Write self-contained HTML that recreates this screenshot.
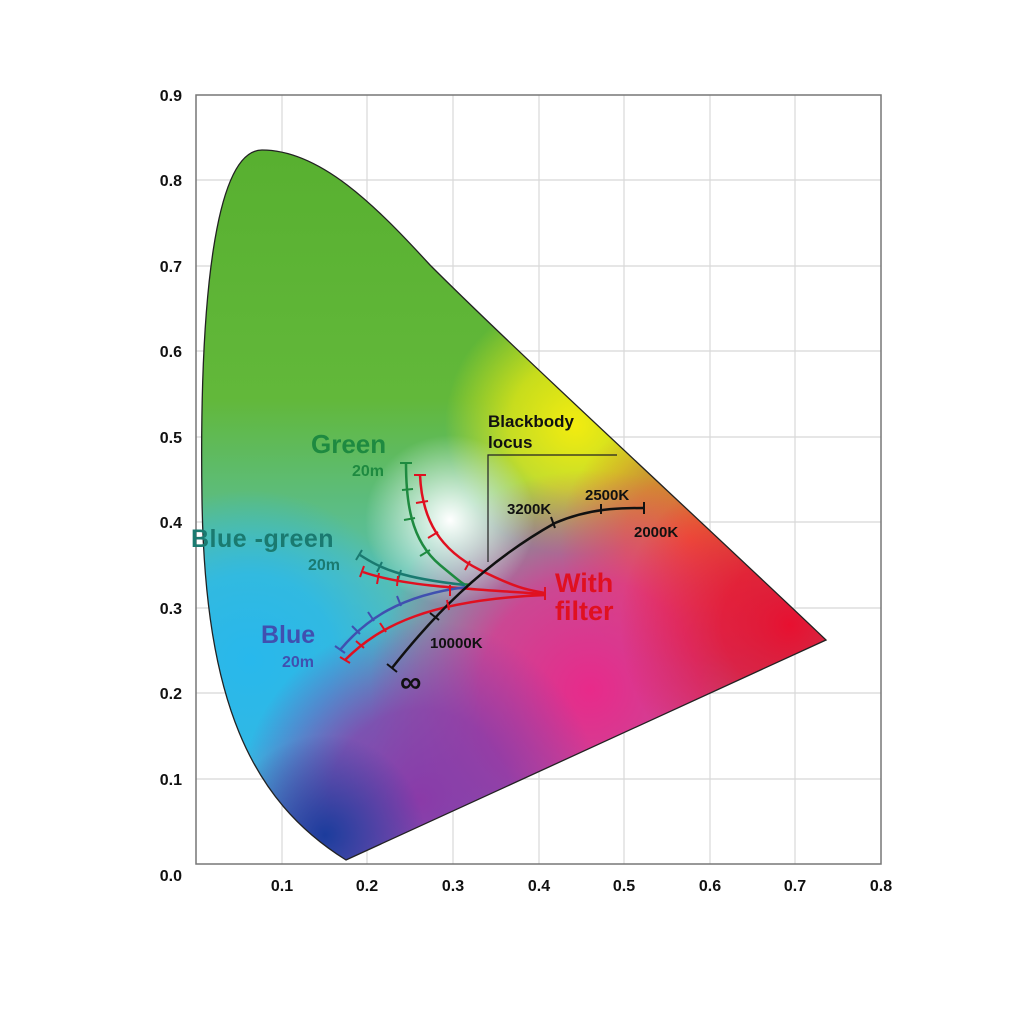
<!DOCTYPE html>
<html><head><style>
body{margin:0;background:#fff;width:1024px;height:1024px;overflow:hidden}
svg text{font-family:"Liberation Sans",Arial,sans-serif;font-weight:bold}
</style></head><body>
<svg width="1024" height="1024" viewBox="0 0 1024 1024">
<defs>
<clipPath id="hs"><path d="M346,860 C250,800 205,700 202,500 C199,300 215,150 262,150 C320,150 375,205 430,265 C520,355 700,520 826,640 Z"/></clipPath>
<radialGradient id="gW" cx="450" cy="520" r="85" gradientUnits="userSpaceOnUse"><stop offset="0" stop-color="#fff" stop-opacity="1"/><stop offset="1" stop-color="#fff" stop-opacity="0"/></radialGradient>
<radialGradient id="gY" cx="575" cy="425" r="130" gradientUnits="userSpaceOnUse"><stop offset="0" stop-color="#f2ec10"/><stop offset="0.5" stop-color="#f2ec10" stop-opacity="0.7"/><stop offset="1" stop-color="#f2ec10" stop-opacity="0"/></radialGradient>
<radialGradient id="gO" cx="690" cy="540" r="130" gradientUnits="userSpaceOnUse"><stop offset="0" stop-color="#f07020"/><stop offset="0.5" stop-color="#f07020" stop-opacity="0.7"/><stop offset="1" stop-color="#f07020" stop-opacity="0"/></radialGradient>
<radialGradient id="gR" cx="790" cy="625" r="170" gradientUnits="userSpaceOnUse"><stop offset="0" stop-color="#e81030"/><stop offset="0.4" stop-color="#e81030" stop-opacity="0.8"/><stop offset="1" stop-color="#e81030" stop-opacity="0"/></radialGradient>
<radialGradient id="gM" cx="590" cy="690" r="220" gradientUnits="userSpaceOnUse"><stop offset="0" stop-color="#e82a8a"/><stop offset="0.5" stop-color="#e82a8a" stop-opacity="0.8"/><stop offset="1" stop-color="#e82a8a" stop-opacity="0"/></radialGradient>
<radialGradient id="gP" cx="420" cy="800" r="180" gradientUnits="userSpaceOnUse"><stop offset="0" stop-color="#8a3aa8"/><stop offset="0.5" stop-color="#8a3aa8" stop-opacity="0.8"/><stop offset="1" stop-color="#8a3aa8" stop-opacity="0"/></radialGradient>
<radialGradient id="gB" cx="325" cy="835" r="100" gradientUnits="userSpaceOnUse"><stop offset="0" stop-color="#1c3c9c"/><stop offset="1" stop-color="#1c3c9c" stop-opacity="0"/></radialGradient>
<radialGradient id="gC" cx="250" cy="660" r="170" gradientUnits="userSpaceOnUse"><stop offset="0" stop-color="#28b8ec"/><stop offset="0.5" stop-color="#28b8ec" stop-opacity="0.8"/><stop offset="1" stop-color="#28b8ec" stop-opacity="0"/></radialGradient>
<linearGradient id="base" x1="0" y1="150" x2="0" y2="860" gradientUnits="userSpaceOnUse"><stop offset="0" stop-color="#58b030"/><stop offset="0.35" stop-color="#62b83a"/><stop offset="0.6" stop-color="#58c0b0"/><stop offset="1" stop-color="#48b0e0"/></linearGradient>
</defs>
<g stroke="#d8d8d8" stroke-width="1.2">
<line x1="282" y1="95" x2="282" y2="864"/><line x1="367" y1="95" x2="367" y2="864"/><line x1="453" y1="95" x2="453" y2="864"/><line x1="539" y1="95" x2="539" y2="864"/><line x1="624" y1="95" x2="624" y2="864"/><line x1="710" y1="95" x2="710" y2="864"/><line x1="795" y1="95" x2="795" y2="864"/>
<line x1="196" y1="779" x2="881" y2="779"/><line x1="196" y1="693" x2="881" y2="693"/><line x1="196" y1="608" x2="881" y2="608"/><line x1="196" y1="522" x2="881" y2="522"/><line x1="196" y1="437" x2="881" y2="437"/><line x1="196" y1="351" x2="881" y2="351"/><line x1="196" y1="266" x2="881" y2="266"/><line x1="196" y1="180" x2="881" y2="180"/>
</g>
<rect x="196" y="95" width="685" height="769" fill="none" stroke="#777" stroke-width="1.5"/>
<g clip-path="url(#hs)">
<rect x="190" y="140" width="650" height="730" fill="url(#base)"/>
<rect x="190" y="140" width="650" height="730" fill="url(#gC)"/>
<rect x="190" y="140" width="650" height="730" fill="url(#gY)"/>
<rect x="190" y="140" width="650" height="730" fill="url(#gO)"/>
<rect x="190" y="140" width="650" height="730" fill="url(#gM)"/>
<rect x="190" y="140" width="650" height="730" fill="url(#gR)"/>
<rect x="190" y="140" width="650" height="730" fill="url(#gP)"/>
<rect x="190" y="140" width="650" height="730" fill="url(#gB)"/>
<rect x="190" y="140" width="650" height="730" fill="url(#gW)"/>
</g>
<path d="M346,860 C250,800 205,700 202,500 C199,300 215,150 262,150 C320,150 375,205 430,265 C520,355 700,520 826,640 Z" fill="none" stroke="#222" stroke-width="1.3"/>
<polyline points="488,562 488,455 617,455" fill="none" stroke="#222" stroke-width="1.2"/>
<g fill="none" stroke-width="2.5">
<path d="M406,463 C406,500 410,540 440,565 S462,583 470,585" stroke="#1e8a40"/>
<path d="M420,475 C422,520 440,550 480,570 S530,590 545,593" stroke="#e01020"/>
<path d="M360,555 C380,568 400,578 465,585" stroke="#1a7a70"/>
<path d="M363,572 C400,585 450,588 545,594" stroke="#e01020"/>
<path d="M340,650 C365,620 400,595 467,587" stroke="#4050b0"/>
<path d="M345,660 C380,625 430,600 545,595" stroke="#e01020"/>
<path d="M392,668 C430,620 480,565 555,523 C590,508 620,508 644,508" stroke="#111"/>
</g>
<g stroke-width="2">
<g stroke="#1e8a40"><line x1="400" y1="463" x2="412" y2="463"/><line x1="402" y1="490" x2="413" y2="489"/><line x1="404" y1="520" x2="415" y2="518"/><line x1="420" y1="556" x2="430" y2="550"/></g>
<g stroke="#e01020"><line x1="414" y1="475" x2="426" y2="475"/><line x1="416" y1="503" x2="428" y2="501"/><line x1="428" y1="538" x2="438" y2="532"/><line x1="465" y1="570" x2="470" y2="561"/><line x1="545" y1="587" x2="545" y2="600"/></g>
<g stroke="#1a7a70"><line x1="356" y1="560" x2="362" y2="550"/><line x1="377" y1="572" x2="382" y2="562"/><line x1="398" y1="580" x2="401" y2="570"/></g>
<g stroke="#e01020"><line x1="360" y1="577" x2="364" y2="566"/><line x1="377" y1="584" x2="379" y2="573"/><line x1="397" y1="586" x2="398" y2="576"/><line x1="450" y1="596" x2="450" y2="585"/></g>
<g stroke="#4050b0"><line x1="335" y1="646" x2="345" y2="653"/><line x1="352" y1="626" x2="360" y2="634"/><line x1="368" y1="612" x2="374" y2="621"/><line x1="397" y1="596" x2="401" y2="606"/></g>
<g stroke="#e01020"><line x1="340" y1="657" x2="350" y2="663"/><line x1="356" y1="641" x2="364" y2="648"/><line x1="380" y1="623" x2="386" y2="632"/><line x1="447" y1="600" x2="449" y2="610"/></g>
<g stroke="#111"><line x1="387" y1="664" x2="397" y2="672"/><line x1="430" y1="613" x2="439" y2="620"/><line x1="551" y1="517" x2="555" y2="528"/><line x1="601" y1="504" x2="601" y2="514"/><line x1="644" y1="502" x2="644" y2="514"/></g>
</g>
<g font-size="16" fill="#111">
<text x="488" y="427" font-size="17">Blackbody</text><text x="488" y="448" font-size="17">locus</text>
<text x="507" y="514" font-size="15">3200K</text><text x="585" y="500" font-size="15">2500K</text><text x="634" y="537" font-size="15">2000K</text>
<text x="430" y="648" font-size="15">10000K</text><text x="400" y="692" font-size="30">∞</text>
</g>
<text x="311" y="453" font-size="26" fill="#1e8a40">Green</text>
<text x="352" y="476" font-size="16" fill="#1e8a40">20m</text>
<text x="191" y="547" font-size="25" fill="#1a7a70" letter-spacing="0.5">Blue -green</text>
<text x="308" y="570" font-size="16" fill="#1a7a70">20m</text>
<text x="261" y="643" font-size="25" fill="#4050b0">Blue</text>
<text x="282" y="667" font-size="16" fill="#4050b0">20m</text>
<text x="555" y="592" font-size="27" fill="#e01020">With</text>
<text x="555" y="620" font-size="27" fill="#e01020">filter</text>
<g font-size="16" fill="#111" text-anchor="end">
<text x="182" y="881">0.0</text><text x="182" y="785">0.1</text><text x="182" y="699">0.2</text><text x="182" y="614">0.3</text><text x="182" y="528">0.4</text><text x="182" y="443">0.5</text><text x="182" y="357">0.6</text><text x="182" y="272">0.7</text><text x="182" y="186">0.8</text><text x="182" y="101">0.9</text>
</g>
<g font-size="16" fill="#111" text-anchor="middle">
<text x="282" y="891">0.1</text><text x="367" y="891">0.2</text><text x="453" y="891">0.3</text><text x="539" y="891">0.4</text><text x="624" y="891">0.5</text><text x="710" y="891">0.6</text><text x="795" y="891">0.7</text><text x="881" y="891">0.8</text>
</g>
</svg>
</body></html>
